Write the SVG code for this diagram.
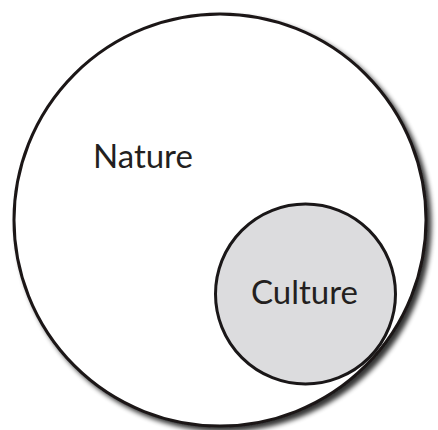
<svg xmlns="http://www.w3.org/2000/svg" width="438" height="430" viewBox="0 0 438 430">
<defs>
<filter id="sh" x="-10%" y="-10%" width="130%" height="130%">
<feGaussianBlur in="SourceAlpha" stdDeviation="2.5"/>
<feOffset dx="4" dy="4" result="b"/>
<feComponentTransfer><feFuncA type="linear" slope="0.8"/></feComponentTransfer>
<feMerge><feMergeNode/><feMergeNode in="SourceGraphic"/></feMerge>
</filter>
<style>
.c{stroke:#1a1718;stroke-width:3}
.t{font-family:Lato,"Open Sans",sans-serif;font-size:33px;fill:#231f20}
</style>
</defs>
<rect width="438" height="430" fill="#fff"/>
<g id="nature">
<circle class="c" cx="220" cy="220" r="206" fill="#fff" filter="url(#sh)"/>
<text class="t" x="93" y="168">Nature</text>
</g>
<g id="culture">
<circle class="c" cx="305.5" cy="294" r="90" fill="#dcdcde"/>
<text class="t" x="251" y="304">Culture</text>
</g>
</svg>
